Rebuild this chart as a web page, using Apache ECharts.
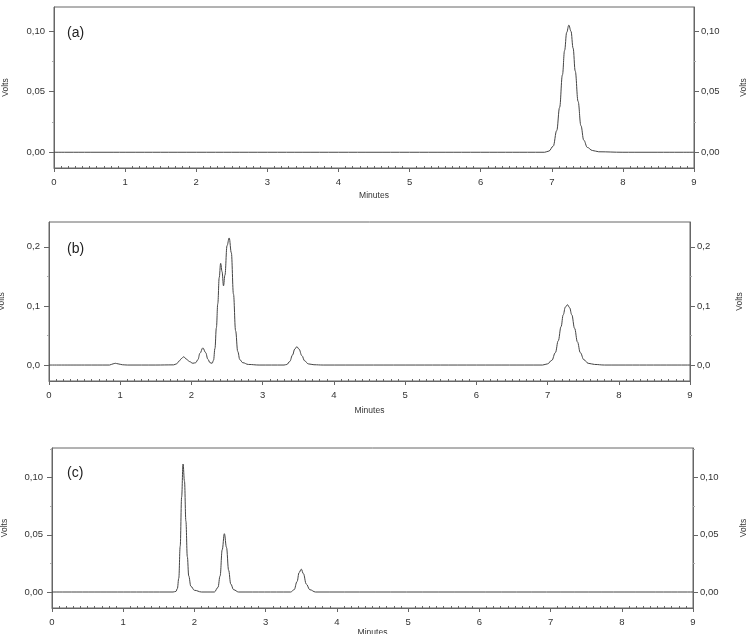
<!DOCTYPE html>
<html>
<head>
<meta charset="utf-8">
<script src="https://cdn.jsdelivr.net/npm/echarts@6/dist/echarts.min.js"></script>
<style>
html, body { margin: 0; padding: 0; background: #fff; }
#chart { width: 749px; height: 634px; }
</style>
</head>
<body>
<div id="chart"></div>
<script>
// chromatograms, [minutes, volts]
var traceA = [
  [0, 0], [1, 0], [2, 0], [3, 0], [4, 0], [5, 0], [6, 0], [6.9, 0],
  [6.96, 0.001], [7.02, 0.005], [7.07, 0.018], [7.11, 0.037], [7.15, 0.064],
  [7.18, 0.084], [7.21, 0.099], [7.24, 0.105], [7.27, 0.100], [7.30, 0.086],
  [7.33, 0.067], [7.37, 0.042], [7.41, 0.022], [7.45, 0.010], [7.50, 0.004],
  [7.57, 0.0015], [7.66, 0.0004], [8, 0], [9, 0]
];
var traceB = [
  [0, 0], [0.5, 0], [0.85, 0], [0.90, 0.002], [0.93, 0.003], [0.97, 0.002],
  [1.03, 0.0005], [1.1, 0], [1.5, 0], [1.75, 0.0003], [1.79, 0.002], [1.83, 0.007],
  [1.86, 0.011], [1.89, 0.014], [1.93, 0.010], [1.97, 0.006], [2.02, 0.003],
  [2.06, 0.004], [2.09, 0.009], [2.12, 0.020], [2.16, 0.029], [2.20, 0.021],
  [2.23, 0.010], [2.26, 0.004], [2.29, 0.003], [2.31, 0.008], [2.33, 0.028],
  [2.35, 0.063], [2.37, 0.104], [2.39, 0.148], [2.41, 0.172], [2.43, 0.158],
  [2.45, 0.134], [2.47, 0.152], [2.50, 0.202], [2.53, 0.215], [2.56, 0.190],
  [2.59, 0.120], [2.62, 0.058], [2.65, 0.023], [2.68, 0.009], [2.72, 0.004],
  [2.8, 0.001], [2.95, 0], [3.3, 0], [3.34, 0.001], [3.38, 0.006], [3.42, 0.017],
  [3.45, 0.027], [3.48, 0.031], [3.51, 0.027], [3.55, 0.016], [3.59, 0.007],
  [3.64, 0.002], [3.72, 0.0005], [3.85, 0], [5, 0], [6, 0], [6.93, 0],
  [7.00, 0.002], [7.06, 0.008], [7.11, 0.021], [7.15, 0.041], [7.19, 0.065],
  [7.22, 0.085], [7.25, 0.098], [7.28, 0.102], [7.31, 0.097], [7.34, 0.085],
  [7.38, 0.062], [7.42, 0.039], [7.46, 0.021], [7.51, 0.009], [7.57, 0.003],
  [7.66, 0.001], [7.8, 0], [9, 0]
];
var traceC = [
  [0, 0], [1, 0], [1.7, 0], [1.74, 0.0005], [1.76, 0.003], [1.78, 0.012],
  [1.80, 0.040], [1.82, 0.083], [1.84, 0.112], [1.86, 0.097], [1.88, 0.062],
  [1.90, 0.031], [1.92, 0.014], [1.95, 0.005], [2.0, 0.0015], [2.1, 0],
  [2.28, 0], [2.33, 0.004], [2.36, 0.014], [2.39, 0.037], [2.42, 0.051],
  [2.45, 0.039], [2.48, 0.019], [2.51, 0.007], [2.55, 0.002], [2.62, 0],
  [3.35, 0], [3.40, 0.002], [3.44, 0.009], [3.47, 0.017], [3.50, 0.020],
  [3.53, 0.016], [3.57, 0.007], [3.62, 0.002], [3.70, 0], [9, 0]
];

// tick values
var yTicksA = [0, 0.05, 0.10];
var yMinorA = [-0.025, 0.025, 0.075, 0.125];
var yTicksB = [0, 0.1, 0.2];
var yMinorB = [-0.05, 0.05, 0.15];
var yTicksC = [0, 0.05, 0.10];
var yMinorC = [-0.025, 0.025, 0.075, 0.125];
var panelLabels = ['(a)', '(b)', '(c)'];

var axisColor = '#666';
var textColor = '#333';
var font = 'Liberation Sans';

var grids = [
  { left: 54, top: 7, width: 640, height: 161 },
  { left: 49, top: 222, width: 641, height: 159 },
  { left: 52, top: 448, width: 641, height: 160 }
].map(function (g) {
  g.show = true;
  g.borderColor = axisColor;
  g.borderWidth = 1;
  g.outerBoundsMode = 'none';
  g.containLabel = false;
  return g;
});

function xAxes(gi, gap) {
  return [{
    gridIndex: gi, type: 'value', position: 'bottom', min: 0, max: 9, interval: 1,
    name: 'Minutes', nameLocation: 'middle', nameGap: gap,
    nameTextStyle: { fontSize: 8.5, color: textColor, fontFamily: font },
    axisLine: { onZero: false, lineStyle: { color: axisColor } },
    axisTick: { length: 4, lineStyle: { color: axisColor } },
    axisLabel: { fontSize: 9.5, color: textColor, fontFamily: font, margin: 9 },
    splitLine: { show: false }
  }, {
    gridIndex: gi, type: 'value', position: 'bottom', min: 0, max: 9, interval: 1,
    axisLine: { show: false, onZero: false },
    axisTick: { show: false, inside: true },
    axisLabel: { show: false },
    minorTick: { show: true, splitNumber: 10, length: 2, lineStyle: { color: axisColor } },
    splitLine: { show: false }
  }];
}

function yAxes(gi, min, max, ticks, minor, digits, gapL, gapR) {
  var fmt = function (v) { return v.toFixed(digits).replace('.', ','); };
  var main = function (pos, gap) {
    return {
      gridIndex: gi, type: 'value', position: pos, min: min, max: max,
      name: 'Volts', nameLocation: 'middle', nameGap: gap, nameRotate: 90,
      nameTextStyle: { fontSize: 8.5, color: textColor, fontFamily: font },
      axisLine: { show: true, onZero: false, lineStyle: { color: axisColor } },
      axisTick: { show: true, length: 5, customValues: ticks, lineStyle: { color: axisColor } },
      axisLabel: { fontSize: 9.5, color: textColor, fontFamily: font, margin: pos === 'left' ? 9 : 7,
        customValues: ticks, formatter: fmt },
      splitLine: { show: false }
    };
  };
  var small = function (pos) {
    return {
      gridIndex: gi, type: 'value', position: pos, min: min, max: max,
      axisLine: { show: false, onZero: false },
      axisTick: { show: true, length: 2, customValues: minor.filter(function (v) { return v > min && v < max; }),
        lineStyle: { color: '#aaa' } },
      axisLabel: { show: false },
      splitLine: { show: false }
    };
  };
  return [main('left', gapL), main('right', gapR), small('left'), small('right')];
}

var chart = echarts.init(document.getElementById('chart'));
var option = {
  backgroundColor: '#fff',
  animation: false,
  title: [
    { text: panelLabels[0], left: 67, top: 26, padding: 0, textStyle: { fontSize: 14, fontWeight: 'normal', color: '#222', fontFamily: font } },
    { text: panelLabels[1], left: 67, top: 242, padding: 0, textStyle: { fontSize: 14, fontWeight: 'normal', color: '#222', fontFamily: font } },
    { text: panelLabels[2], left: 67, top: 466, padding: 0, textStyle: { fontSize: 14, fontWeight: 'normal', color: '#222', fontFamily: font } }
  ],
  grid: grids,
  xAxis: [].concat(xAxes(0, 23), xAxes(1, 25), xAxes(2, 19)),
  yAxis: [].concat(
    yAxes(0, -0.013, 0.12, yTicksA, yMinorA, 2, 44, 45),
    yAxes(1, -0.027, 0.242, yTicksB, yMinorB, 1, 43, 45),
    yAxes(2, -0.014, 0.126, yTicksC, yMinorC, 2, 43, 46)
  ),
  series: [
    { type: 'line', xAxisIndex: 0, yAxisIndex: 0, data: traceA },
    { type: 'line', xAxisIndex: 2, yAxisIndex: 4, data: traceB },
    { type: 'line', xAxisIndex: 4, yAxisIndex: 8, data: traceC }
  ].map(function (s) {
    s.showSymbol = false;
    s.symbol = 'none';
    s.smooth = 0.4;
    s.smoothMonotone = 'x';
    s.lineStyle = { color: '#444', width: 1 };
    return s;
  })
};
chart.setOption(option);
</script>
</body>
</html>
